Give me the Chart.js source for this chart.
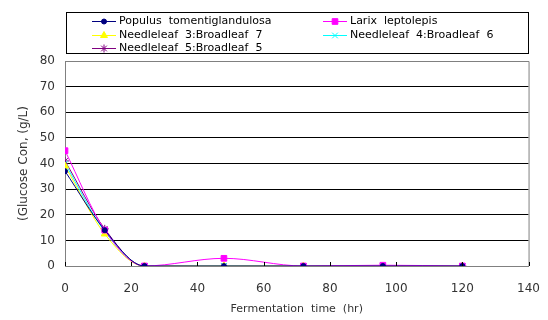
<!DOCTYPE html>
<html>
<head>
<meta charset="utf-8">
<script src="https://cdn.jsdelivr.net/npm/chart.js@4.4.1/dist/chart.umd.min.js"></script>
<style>
  html, body { margin: 0; padding: 0; background: #fff; }
  #wrap { position: relative; width: 548px; height: 320px; }
</style>
</head>
<body>
<div id="wrap"><canvas id="chart" width="548" height="320"></canvas></div>
<script>
// fermentation time (hr)
const hours = [0, 12, 24, 48, 72, 96, 120];

// glucose concentration (g/L)
const populus   = [37, 14, 0, 0, 0, 0, 0];
const larix     = [45, 14, 0, 3, 0, 0.3, 0];
const needle37  = [39, 12.5, 0, 0, 0, 0, 0];
const needle46  = [40, 13.5, 0, 0, 0, 0, 0];
const needle55  = [41, 14.5, 0, 0, 0, 0, 0];

const seriesNames = [
  'Populus  tomentiglandulosa',
  'Larix  leptolepis',
  'Needleleaf  3:Broadleaf  7',
  'Needleleaf  4:Broadleaf  6',
  'Needleleaf  5:Broadleaf  5'
];
const seriesData = [populus, larix, needle37, needle46, needle55];
const seriesColors = ['#000080', '#FF00FF', '#FFFF00', '#00FFFF', '#800080'];
const seriesMarks = ['circle', 'rect', 'triangle', 'crossRot', 'star'];
const markSizes = [2.5, 4, 4, 4, 4];

const yTicks = [0, 10, 20, 30, 40, 50, 60, 70, 80];
const xTicks = [0, 20, 40, 60, 80, 100, 120, 140];

const FONT = "'DejaVu Sans', sans-serif";

const datasets = seriesData.map((vals, i) => ({
  label: seriesNames[i],
  data: vals.map((v, k) => ({ x: hours[k], y: v })),
  borderColor: seriesColors[i],
  backgroundColor: seriesColors[i],
  borderWidth: 1,
  pointStyle: seriesMarks[i],
  pointRadius: markSizes[i],
  pointBorderWidth: 1,
  cubicInterpolationMode: 'monotone'
}));

// legend box + plot frame + inside x ticks
const decor = {
  id: 'decor',
  afterDraw(chart) {
    const ctx = chart.ctx;
    const a = chart.chartArea;
    const xs = chart.scales.x;
    ctx.save();
    // frame (top + right)
    ctx.strokeStyle = '#808080';
    ctx.lineWidth = 1;
    ctx.beginPath();
    ctx.moveTo(a.left, a.top + 0.5);
    ctx.lineTo(a.right + 0.5, a.top + 0.5);
    ctx.lineTo(a.right + 0.5, a.bottom);
    ctx.stroke();
    // x ticks pointing up
    ctx.strokeStyle = '#000';
    xTicks.forEach(t => {
      const px = Math.round(xs.getPixelForValue(t)) + 0.5;
      ctx.beginPath();
      ctx.moveTo(px, a.bottom);
      ctx.lineTo(px, a.bottom - 4);
      ctx.stroke();
    });
    // legend
    ctx.strokeStyle = '#000';
    ctx.strokeRect(66.5, 12.5, 462, 41);
    const spots = [[92, 21], [323, 21], [92, 35], [323, 35], [92, 48]];
    ctx.font = '11px ' + FONT;
    ctx.textBaseline = 'middle';
    seriesNames.forEach((name, i) => {
      const [lx, ly] = spots[i];
      ctx.strokeStyle = seriesColors[i];
      ctx.beginPath();
      ctx.moveTo(lx, ly + 0.5);
      ctx.lineTo(lx + 24, ly + 0.5);
      ctx.stroke();
      ctx.fillStyle = seriesColors[i];
      Chart.helpers.drawPoint(ctx, {
        pointStyle: seriesMarks[i], radius: markSizes[i], rotation: 0, borderWidth: 1
      }, lx + 12, ly + 0.5);
      ctx.fillStyle = '#000';
      ctx.fillText(name, lx + 27, ly);
    });
    ctx.restore();
  }
};

new Chart(document.getElementById('chart'), {
  type: 'line',
  data: { datasets },
  plugins: [decor],
  options: {
    responsive: false,
    animation: false,
    layout: { padding: { top: 61, right: 18, left: 13, bottom: 0 } },
    plugins: { legend: { display: false }, tooltip: { enabled: false } },
    scales: {
      x: {
        type: 'linear',
        min: 0, max: 140,
        afterBuildTicks(s) { s.ticks = xTicks.map(v => ({ value: v })); },
        afterFit(s) { s.height = 54; },
        grid: { display: false },
        border: { color: '#808080', width: 1 },
        ticks: { color: '#333', font: { family: FONT, size: 12 }, padding: 8 },
        title: { display: true, text: 'Fermentation  time  (hr)', color: '#333',
                 font: { family: FONT, size: 11 }, padding: { top: 6 } }
      },
      y: {
        min: 0, max: 80,
        afterBuildTicks(s) { s.ticks = yTicks.map(v => ({ value: v })); },
        afterFit(s) { s.width = 52; },
        grid: {
          drawTicks: false,
          color: c => (c.tick.value === 0 || c.tick.value === 80) ? 'rgba(0,0,0,0)' : '#000'
        },
        border: { color: '#808080', width: 1 },
        ticks: { color: '#333', font: { family: FONT, size: 12 }, padding: 10 },
        title: { display: true, text: '(Glucose Con, (g/L)', color: '#333',
                 font: { family: FONT, size: 12 }, padding: { bottom: 2 } }
      }
    }
  }
});
</script>
</body>
</html>
